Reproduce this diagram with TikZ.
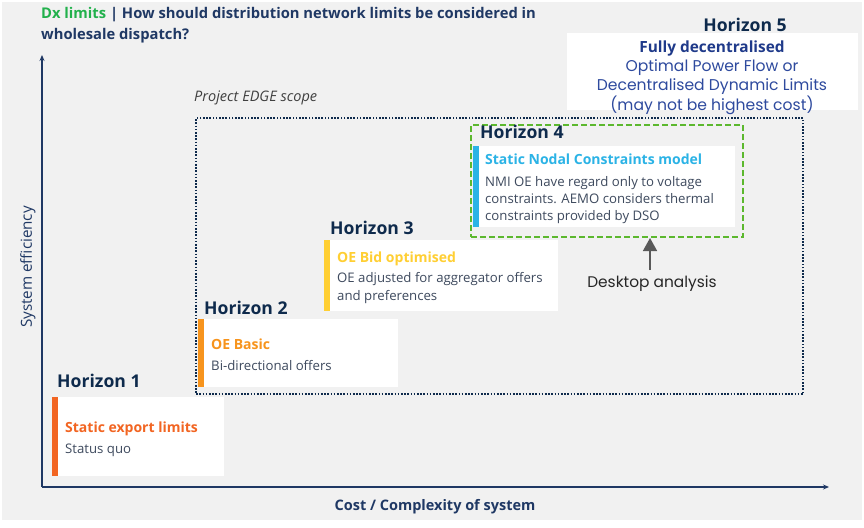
\documentclass[tikz,border=0pt]{standalone}
\usepackage{fontspec}
\setmainfont{Open Sans}
\newfontfamily\geo{Poppins}
\usetikzlibrary{arrows.meta}
\definecolor{bg}{HTML}{F1F1F1}
\definecolor{navy}{HTML}{1F3864}
\definecolor{hnavy}{HTML}{0E2A4C}
\definecolor{bodyc}{HTML}{3E4A5E}
\definecolor{dxgreen}{HTML}{22B14C}
\definecolor{hfiveb}{HTML}{1F3A8A}
\definecolor{hfivet}{HTML}{2E4A9E}
\definecolor{cone}{HTML}{F26522}
\definecolor{ctwo}{HTML}{F7941D}
\definecolor{cthree}{HTML}{FFCF33}
\definecolor{cfour}{HTML}{2BB3E6}
\definecolor{dgreen}{HTML}{5CB82E}
\definecolor{arrgray}{HTML}{595959}
\tikzset{
  hz/.style={font=\fontsize{17.6}{20}\selectfont\bfseries, text=hnavy, inner sep=0pt, anchor=base west},
  card/.style={fill=white, inner sep=0pt, anchor=north west},
  cardtitle/.style={font=\fontsize{14}{16}\selectfont\bfseries, inner sep=0pt, anchor=base west},
  cardbody/.style={font=\fontsize{13.2}{17}\selectfont, text=bodyc, inner sep=0pt, anchor=base west, align=left},
  axis/.style={draw=navy, line width=1.2pt, -{Stealth[length=6pt,width=5pt]}},
}
\begin{document}
\begin{tikzpicture}[x=1pt,y=-1pt]
\useasboundingbox (0,0) rectangle (864,527);
\fill[white] (0,0) rectangle (864,527);
\fill[bg] (2,2) rectangle (862,520);

% title (anchored at the baseline of its last line)
\node[inner sep=0pt, anchor=base west, align=left, font=\fontsize{14.75}{21}\selectfont\bfseries, text=navy] (title) at (41,40)
  {\textcolor{dxgreen}{Dx limits} | How should distribution network limits be considered in\\wholesale dispatch?};

% axes
\coordinate (origin) at (42,487);
\coordinate (ytop) at (42,55);
\coordinate (xend) at (829,487);
\draw[axis] (origin) -- (ytop);
\draw[axis] (origin) -- (xend);
\node[rotate=90, inner sep=0pt, font=\fontsize{15.2}{17}\selectfont, text=navy] (ylab) at (28,267) {System efficiency};
\node[inner sep=0pt, font=\fontsize{14.5}{16}\selectfont\bfseries, text=navy] (xlab) at (435,507) {Cost / Complexity of system};

% project EDGE scope
\node[draw=hnavy, line width=2.2pt, dash pattern=on 1.6pt off 1.6pt, inner sep=0pt, minimum width=607pt, minimum height=276pt, anchor=north west] (scope) at (195,117) {};
\node[inner sep=0pt, anchor=west, font=\fontsize{14.5}{16}\selectfont\itshape, text=black!75] (scopelab) at (194,98) {Project EDGE scope};

% Horizon 5
\node[card, minimum width=291pt, minimum height=77pt] (b5) at (567,33) {};
\node[inner sep=0pt, font=\fontsize{17.6}{20}\selectfont\bfseries, text=hnavy] (h5) at (745,25) {Horizon 5};
\node[inner sep=0pt, font=\fontsize{15.4}{17}\selectfont\bfseries, text=hfiveb] (t5) at (712,48) {Fully decentralised};
\node[inner sep=0pt, align=center, anchor=base, font=\geo\fontsize{15.6}{18.5}\selectfont, text=hfivet] (d5) at (712,110) {Optimal Power Flow or\\Decentralised Dynamic Limits\\(may not be highest cost)};

% Horizon 1
\node[hz] (h1) at (57,387) {Horizon 1};
\node[card, minimum width=172pt, minimum height=79pt] (b1) at (52,397) {};
\fill[cone] (b1.north west) rectangle ++(6,79);
\node[cardtitle, text=cone] (t1) at (65,432) {Static export limits};
\node[cardbody] (d1) at (65,453) {Status quo};

% Horizon 2
\node[hz] (h2) at (204,314) {Horizon 2};
\node[card, minimum width=200pt, minimum height=68pt] (b2) at (198,319) {};
\fill[ctwo] (b2.north west) rectangle ++(6,68);
\node[cardtitle, text=ctwo] (t2) at (211,349) {OE Basic};
\node[cardbody] (d2) at (211,370) {Bi-directional offers};

% Horizon 3
\node[hz] (h3) at (330,234) {Horizon 3};
\node[card, minimum width=234pt, minimum height=71pt] (b3) at (324,240) {};
\fill[cthree] (b3.north west) rectangle ++(6,71);
\node[cardtitle, text=cthree] (t3) at (337,262) {OE Bid optimised};
\node[cardbody, font=\fontsize{13.2}{18.5}\selectfont] (d3) at (337,300.5) {OE adjusted for aggregator offers\\and preferences};

% Horizon 4
\node[draw=dgreen, line width=2pt, dash pattern=on 6pt off 3pt, inner sep=0pt, minimum width=272pt, minimum height=112pt, anchor=north west] (b4frame) at (470,124) {};
\node[hz] (h4) at (480,138) {Horizon 4};
\node[card, minimum width=262pt, minimum height=81pt] (b4) at (473,146) {};
\fill[cfour] (b4.north west) rectangle ++(6,81);
\node[cardtitle, text=cfour] (t4) at (485,164) {Static Nodal Constraints model};
\node[cardbody] (d4) at (485,220) {NMI OE have regard only to voltage\\constraints. AEMO considers thermal\\constraints provided by DSO};

% Desktop analysis
\node[inner sep=0pt, font=\geo\fontsize{15.4}{17}\selectfont, text=black!85] (desk) at (652,284) {Desktop analysis};
\coordinate (dtail) at (650,270);
\draw[draw=arrgray, line width=1.5pt, -{Triangle[length=13pt,width=14pt]}] (dtail) -- (dtail |- b4frame.south);
\end{tikzpicture}
\end{document}
